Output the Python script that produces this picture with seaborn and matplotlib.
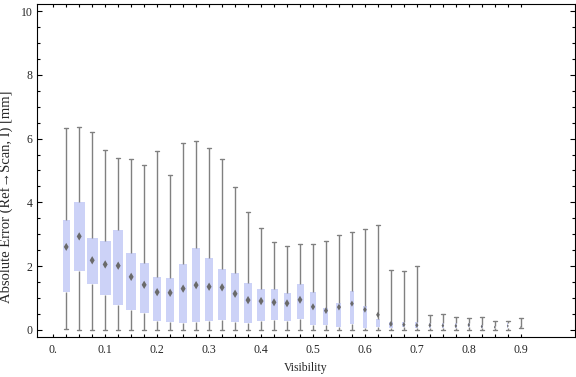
import numpy as np
import pandas as pd
import matplotlib
matplotlib.use("Agg")
import matplotlib.pyplot as plt
from matplotlib.ticker import FixedLocator, MultipleLocator
import seaborn as sns

# Box-whisker summary per visibility bin
visibility = [0.025, 0.05, 0.075, 0.1, 0.125, 0.15, 0.175, 0.2, 0.225, 0.25, 0.275, 0.3,
              0.325, 0.35, 0.375, 0.4, 0.425, 0.45, 0.475, 0.5, 0.525, 0.55, 0.575, 0.6,
              0.625, 0.65, 0.675, 0.7, 0.725, 0.75, 0.775, 0.8, 0.825, 0.85, 0.875, 0.9]
whisker_low = [0.03, 0.0, 0.0, 0.0, 0.0, 0.0, 0.0, 0.0, 0.0, 0.0, 0.0, 0.0,
               0.0, 0.0, 0.0, 0.0, 0.0, 0.0, 0.0, 0.0, 0.0, 0.0, 0.0, 0.0,
               0.0, 0.0, 0.0, 0.0, 0.0, 0.0, 0.0, 0.0, 0.0, 0.0, 0.0, 0.06]
q1 = [1.20, 1.83, 1.45, 1.08, 0.79, 0.61, 0.51, 0.28, 0.23, 0.20, 0.23, 0.26,
      0.32, 0.23, 0.20, 0.29, 0.30, 0.26, 0.33, 0.15, 0.15, 0.10, 0.17, 0.07,
      0.10, 0.04, 0.08, 0.04, 0.07, 0.05, 0.05, 0.08, 0.05, 0.05, 0.05, 0.06]
mean_err = [2.60, 2.93, 2.18, 2.05, 2.01, 1.66, 1.41, 1.18, 1.16, 1.29, 1.40, 1.35,
            1.33, 1.13, 0.93, 0.90, 0.86, 0.83, 0.94, 0.72, 0.60, 0.71, 0.82, 0.63,
            0.47, 0.18, 0.16, 0.14, 0.14, 0.13, 0.12, 0.15, 0.10, 0.08, 0.12, 0.08]
q3 = [3.45, 4.01, 2.88, 2.79, 3.13, 2.41, 2.10, 1.66, 1.63, 2.07, 2.57, 2.26,
      1.91, 1.79, 1.47, 1.29, 1.29, 1.16, 1.44, 1.19, 0.69, 0.85, 1.22, 0.75,
      0.34, 0.25, 0.23, 0.23, 0.20, 0.20, 0.20, 0.22, 0.16, 0.12, 0.20, 0.10]
whisker_high = [6.32, 6.35, 6.20, 5.63, 5.38, 5.35, 5.16, 5.60, 4.85, 5.85, 5.91, 5.69,
                5.35, 4.47, 3.69, 3.19, 2.75, 2.62, 2.69, 2.69, 2.78, 2.97, 3.06, 3.16,
                3.28, 1.87, 1.84, 2.00, 0.46, 0.49, 0.41, 0.38, 0.41, 0.28, 0.28, 0.38]

x_ticks = [0.0, 0.1, 0.2, 0.3, 0.4, 0.5, 0.6, 0.7, 0.8, 0.9]
x_tick_labels = ["0.", "0.1", "0.2", "0.3", "0.4", "0.5", "0.6", "0.7", "0.8", "0.9"]

# box widths in pixels (the chart scales them per bin)
box_px = [7, 11, 11, 11, 10, 10, 9, 8, 8, 8, 8, 8, 8, 8, 8, 8, 7, 7, 7, 5.5, 5, 5,
          4, 4, 4, 4, 3, 3, 2.5, 2, 2, 2, 1.5, 1, 1, 0.5]
px_per_unit = 520.0

sns.set_style("ticks")
plt.rcParams["font.family"] = ["Liberation Serif", "DejaVu Serif"]
plt.rcParams["font.size"] = 8.5

box_color = "#ccd2f7"
line_color = "#808080"

fig, ax = plt.subplots(figsize=(5.76, 3.77), dpi=100)
fig.subplots_adjust(left=0.0642, right=0.9985, bottom=0.106, top=0.989)

for i, v in enumerate(visibility):
    # five-number summary -> box spans q1..q3, whiskers to min/max
    vals = [whisker_low[i], q1[i], q1[i], q3[i], whisker_high[i]]
    sns.boxplot(x=[v] * 5, y=vals, orient="x", native_scale=True,
                width=box_px[i] / px_per_unit, whis=(0, 100), color=box_color,
                saturation=1, linecolor=line_color, linewidth=1.0, fliersize=0,
                medianprops={"visible": False}, capwidths=0.008, ax=ax)

for p in ax.patches:
    p.set_linewidth(0)
    p.set_edgecolor(box_color)

diamond_s = [2.4 * min(w, 7.5) for w in box_px]
sns.scatterplot(x=visibility, y=mean_err, marker="d", s=diamond_s, color="#6a6a6a",
                linewidth=0, zorder=5, legend=False, ax=ax)

ax.set_xlim(-0.0313, 1.0046)
ax.set_ylim(-0.229, 10.22)
ax.xaxis.set_major_locator(FixedLocator(x_ticks))
ax.set_xticklabels(x_tick_labels)
ax.xaxis.set_minor_locator(FixedLocator(visibility))
ax.yaxis.set_major_locator(MultipleLocator(2))
ax.yaxis.set_minor_locator(MultipleLocator(0.5))
ax.tick_params(which="both", direction="in", top=True, right=True, width=0.8,
               color="black", labelsize=8.5)
ax.tick_params(axis="x", which="both", length=2.3, pad=5)
ax.tick_params(axis="y", which="major", length=3.5, pad=3)
ax.tick_params(axis="y", which="minor", length=2)
for s in ax.spines.values():
    s.set_linewidth(0.8)
    s.set_color("black")

ax.set_xlabel("Visibility", fontsize=8.5, labelpad=4)
ax.set_ylabel("Absolute Error (Ref\u2192Scan, I) [mm]", fontsize=10.5)
ax.yaxis.set_label_coords(-0.044, 0.42)

fig.savefig("out.png", dpi=100)
